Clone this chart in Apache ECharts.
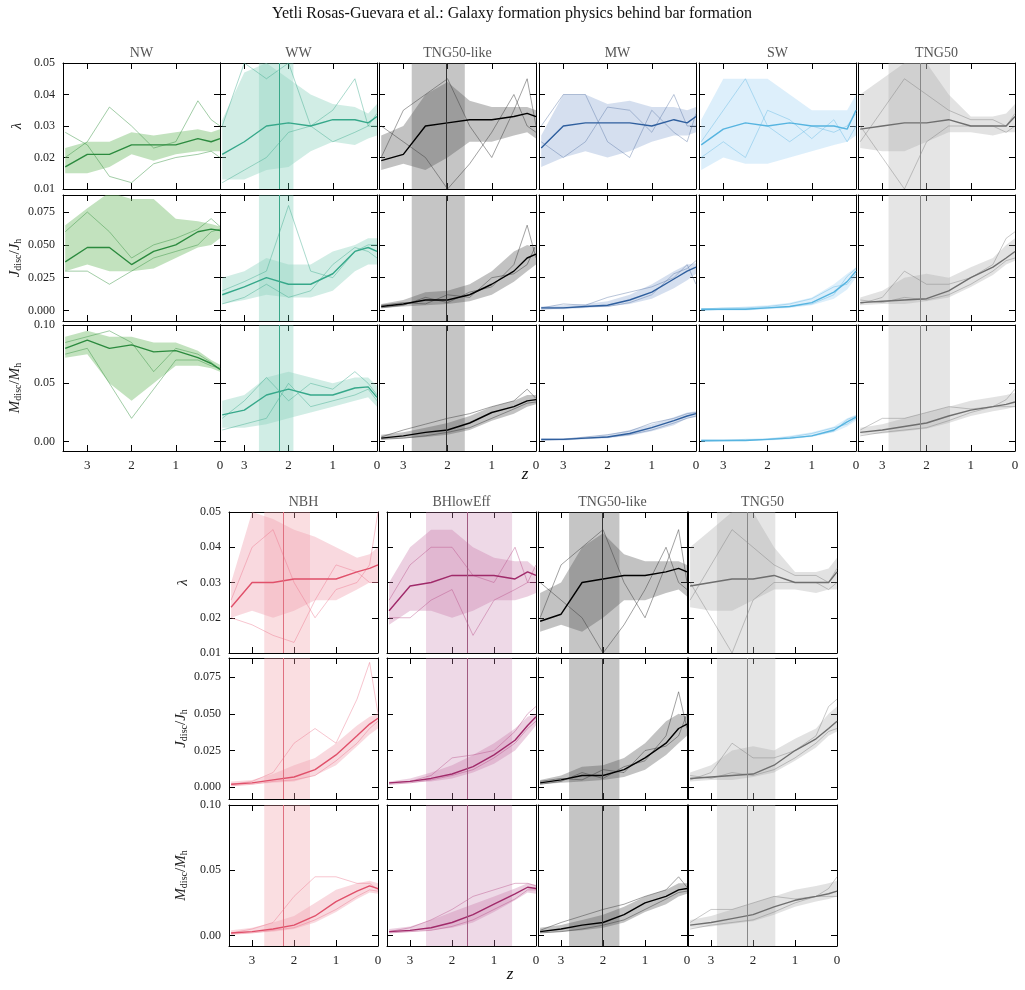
<!DOCTYPE html>
<html><head><meta charset="utf-8">
<script src="https://cdn.jsdelivr.net/npm/echarts@6/dist/echarts.min.js"></script>
<style>html,body{margin:0;padding:0;background:#fff}#c{width:1025px;height:990px}</style>
</head><body><div id="c"></div>
<script>
const Z = [3.5,3,2.5,2,1.5,1,0.5,0.2,0];
const xTicks = [0,1,2,3];
const lamTicks = [0.01,0.02,0.03,0.04,0.05];
const jTicks = [0,0.025,0.05,0.075];
const mTicks = [0,0.05,0.10];

const NW_lam_med=[0.017,0.021,0.021,0.024,0.024,0.024,0.026,0.025,0.026];
const NW_lam_lo=[0.015,0.015,0.017,0.021,0.019,0.021,0.022,0.022,0.022];
const NW_lam_hi=[0.023,0.025,0.025,0.028,0.027,0.028,0.029,0.028,0.029];
const NW_lam_t1=[0.028,0.024,0.014,0.012,0.018,0.02,0.021,0.022,0.02];
const NW_lam_t2=[0.02,0.025,0.036,0.03,0.023,0.025,0.038,0.032,0.03];
const NW_j_med=[0.037,0.048,0.048,0.035,0.045,0.05,0.06,0.062,0.061];
const NW_j_lo=[0.03,0.035,0.03,0.03,0.032,0.04,0.048,0.05,0.055];
const NW_j_hi=[0.065,0.078,0.09,0.085,0.085,0.07,0.068,0.066,0.064];
const NW_j_t1=[0.03,0.03,0.02,0.03,0.04,0.045,0.05,0.06,0.062];
const NW_j_t2=[0.06,0.075,0.06,0.04,0.05,0.055,0.062,0.07,0.064];
const NW_m_med=[0.08,0.087,0.08,0.083,0.077,0.078,0.072,0.067,0.062];
const NW_m_lo=[0.072,0.075,0.05,0.035,0.05,0.065,0.065,0.063,0.06];
const NW_m_hi=[0.09,0.095,0.09,0.09,0.085,0.085,0.078,0.07,0.066];
const NW_m_t1=[0.075,0.08,0.05,0.02,0.045,0.07,0.07,0.065,0.063];
const NW_m_t2=[0.085,0.09,0.095,0.085,0.06,0.08,0.075,0.068,0.062];

const WW_lam_med=[0.021,0.025,0.03,0.031,0.03,0.032,0.032,0.031,0.033];
const WW_lam_lo=[0.013,0.013,0.016,0.017,0.022,0.025,0.024,0.026,0.027];
const WW_lam_hi=[0.032,0.047,0.05,0.045,0.04,0.037,0.036,0.034,0.037];
const WW_lam_t1=[0.03,0.05,0.045,0.05,0.03,0.035,0.045,0.03,0.03];
const WW_lam_t2=[0.012,0.016,0.02,0.028,0.03,0.025,0.028,0.03,0.034];
const WW_j_med=[0.012,0.018,0.025,0.02,0.02,0.028,0.045,0.048,0.045];
const WW_j_lo=[0.005,0.008,0.012,0.01,0.01,0.015,0.03,0.035,0.035];
const WW_j_hi=[0.025,0.03,0.04,0.035,0.035,0.045,0.05,0.055,0.055];
const WW_j_t1=[0.015,0.022,0.03,0.08,0.03,0.025,0.045,0.05,0.05];
const WW_j_t2=[0.005,0.01,0.02,0.01,0.015,0.035,0.048,0.045,0.04];
const WW_m_med=[0.023,0.027,0.04,0.045,0.04,0.04,0.046,0.047,0.038];
const WW_m_lo=[0.012,0.012,0.015,0.02,0.025,0.03,0.035,0.038,0.03];
const WW_m_hi=[0.035,0.04,0.055,0.06,0.055,0.05,0.055,0.055,0.048];
const WW_m_t1=[0.02,0.035,0.055,0.035,0.05,0.045,0.06,0.05,0.04];
const WW_m_t2=[0.01,0.015,0.02,0.05,0.03,0.035,0.04,0.045,0.035];

const TL_lam_med=[0.019,0.021,0.03,0.031,0.032,0.032,0.033,0.034,0.033];
const TL_lam_lo=[0.016,0.018,0.016,0.02,0.025,0.025,0.027,0.028,0.026];
const TL_lam_hi=[0.027,0.03,0.04,0.044,0.038,0.036,0.036,0.036,0.035];
const TL_lam_t1=[0.03,0.025,0.02,0.01,0.018,0.028,0.04,0.03,0.028];
const TL_lam_t2=[0.02,0.035,0.04,0.045,0.03,0.02,0.035,0.045,0.03];
const TL_j_med=[0.003,0.005,0.008,0.008,0.012,0.02,0.03,0.04,0.043];
const TL_j_lo=[0.002,0.003,0.004,0.005,0.007,0.012,0.022,0.03,0.035];
const TL_j_hi=[0.005,0.008,0.014,0.015,0.02,0.03,0.045,0.05,0.048];
const TL_j_t1=[0.002,0.004,0.01,0.006,0.014,0.018,0.035,0.065,0.04];
const TL_j_t2=[0.004,0.006,0.005,0.012,0.01,0.025,0.028,0.035,0.05];
const TL_m_med=[0.003,0.005,0.008,0.01,0.016,0.025,0.03,0.035,0.036];
const TL_m_lo=[0.002,0.003,0.004,0.006,0.01,0.018,0.024,0.03,0.032];
const TL_m_hi=[0.006,0.008,0.012,0.016,0.022,0.03,0.035,0.04,0.04];
const TL_m_t1=[0.004,0.01,0.015,0.02,0.024,0.03,0.035,0.045,0.037];
const TL_m_t2=[0.002,0.003,0.005,0.008,0.012,0.02,0.028,0.033,0.034];

const MW_lam_med=[0.023,0.03,0.031,0.031,0.031,0.03,0.032,0.031,0.033];
const MW_lam_lo=[0.017,0.02,0.022,0.02,0.022,0.025,0.027,0.027,0.028];
const MW_lam_hi=[0.027,0.04,0.04,0.037,0.038,0.036,0.036,0.035,0.036];
const MW_lam_t1=[0.03,0.04,0.04,0.025,0.02,0.035,0.028,0.025,0.034];
const MW_lam_t2=[0.025,0.02,0.025,0.036,0.035,0.028,0.04,0.03,0.03];
const MW_j_med=[0.002,0.002,0.003,0.004,0.008,0.014,0.024,0.03,0.033];
const MW_j_lo=[0.001,0.001,0.002,0.003,0.005,0.009,0.017,0.023,0.028];
const MW_j_hi=[0.003,0.004,0.005,0.007,0.012,0.02,0.03,0.035,0.036];
const MW_j_t1=[0.002,0.005,0.004,0.01,0.014,0.018,0.025,0.035,0.02];
const MW_j_t2=[0.001,0.002,0.003,0.003,0.006,0.012,0.028,0.032,0.038];
const MW_m_med=[0.002,0.002,0.003,0.004,0.007,0.012,0.018,0.022,0.024];
const MW_m_lo=[0.001,0.001,0.002,0.003,0.005,0.009,0.014,0.02,0.021];
const MW_m_hi=[0.003,0.003,0.004,0.006,0.01,0.015,0.021,0.025,0.026];
const MW_m_t1=[0.001,0.002,0.004,0.006,0.009,0.016,0.02,0.024,0.025];
const MW_m_t2=[0.002,0.002,0.003,0.004,0.006,0.01,0.016,0.02,0.022];

const SW_lam_med=[0.024,0.029,0.031,0.03,0.031,0.03,0.03,0.029,0.035];
const SW_lam_lo=[0.016,0.02,0.018,0.018,0.02,0.022,0.024,0.025,0.027];
const SW_lam_hi=[0.032,0.045,0.045,0.045,0.04,0.035,0.035,0.035,0.04];
const SW_lam_t1=[0.025,0.035,0.045,0.03,0.025,0.03,0.028,0.03,0.034];
const SW_lam_t2=[0.02,0.025,0.02,0.035,0.032,0.026,0.032,0.025,0.03];
const SW_j_med=[0.001,0.001,0.001,0.002,0.003,0.006,0.014,0.022,0.03];
const SW_j_lo=[0.0,0.0,0.0,0.001,0.002,0.004,0.009,0.016,0.025];
const SW_j_hi=[0.002,0.002,0.003,0.004,0.006,0.01,0.02,0.028,0.033];
const SW_j_t1=[0.001,0.002,0.002,0.003,0.005,0.009,0.018,0.02,0.028];
const SW_j_t2=[0.0,0.001,0.001,0.002,0.003,0.005,0.012,0.026,0.032];
const SW_m_med=[0.001,0.001,0.001,0.002,0.003,0.005,0.01,0.017,0.021];
const SW_m_lo=[0,0,0.001,0.001,0.002,0.004,0.008,0.013,0.018];
const SW_m_hi=[0.002,0.002,0.002,0.003,0.005,0.008,0.013,0.02,0.023];
const SW_m_t1=[0.001,0.001,0.002,0.002,0.004,0.007,0.012,0.015,0.02];
const SW_m_t2=[0,0.001,0.001,0.002,0.003,0.005,0.009,0.019,0.022];

const T50_lam_med=[0.029,0.03,0.031,0.031,0.032,0.03,0.03,0.03,0.033];
const T50_lam_lo=[0.023,0.022,0.022,0.025,0.028,0.028,0.027,0.028,0.028];
const T50_lam_hi=[0.04,0.045,0.05,0.05,0.04,0.033,0.033,0.034,0.037];
const T50_lam_t1=[0.03,0.02,0.01,0.025,0.03,0.03,0.03,0.028,0.03];
const T50_lam_t2=[0.025,0.035,0.045,0.04,0.035,0.032,0.032,0.03,0.034];
const T50_j_med=[0.006,0.007,0.008,0.009,0.015,0.025,0.033,0.04,0.045];
const T50_j_lo=[0.004,0.005,0.005,0.007,0.01,0.018,0.027,0.035,0.038];
const T50_j_hi=[0.01,0.015,0.025,0.028,0.025,0.033,0.04,0.05,0.055];
const T50_j_t1=[0.005,0.01,0.03,0.02,0.02,0.025,0.035,0.055,0.06];
const T50_j_t2=[0.008,0.006,0.01,0.008,0.012,0.02,0.03,0.038,0.04];
const T50_m_med=[0.008,0.01,0.013,0.016,0.022,0.027,0.03,0.032,0.034];
const T50_m_lo=[0.006,0.007,0.009,0.011,0.016,0.022,0.026,0.028,0.03];
const T50_m_hi=[0.012,0.015,0.02,0.025,0.03,0.035,0.038,0.04,0.042];
const T50_m_t1=[0.01,0.02,0.02,0.025,0.03,0.028,0.03,0.036,0.045];
const T50_m_t2=[0.005,0.008,0.01,0.012,0.018,0.025,0.03,0.03,0.03];

const NBH_lam_med=[0.023,0.03,0.03,0.031,0.031,0.031,0.033,0.034,0.035];
const NBH_lam_lo=[0.02,0.022,0.02,0.022,0.025,0.025,0.028,0.03,0.03];
const NBH_lam_hi=[0.03,0.05,0.048,0.045,0.043,0.04,0.037,0.038,0.04];
const NBH_lam_t1=[0.025,0.04,0.045,0.03,0.02,0.028,0.03,0.035,0.05];
const NBH_lam_t2=[0.02,0.018,0.015,0.013,0.025,0.035,0.033,0.03,0.03];
const NBH_j_med=[0.002,0.003,0.005,0.007,0.012,0.022,0.035,0.043,0.047];
const NBH_j_lo=[0.001,0.002,0.003,0.004,0.008,0.015,0.028,0.036,0.04];
const NBH_j_hi=[0.004,0.005,0.009,0.015,0.02,0.03,0.042,0.048,0.05];
const NBH_j_t1=[0.002,0.004,0.01,0.03,0.04,0.03,0.06,0.085,0.05];
const NBH_j_t2=[0.001,0.002,0.004,0.005,0.008,0.018,0.03,0.04,0.045];
const NBH_m_med=[0.002,0.003,0.005,0.008,0.015,0.026,0.034,0.038,0.036];
const NBH_m_lo=[0.001,0.002,0.003,0.005,0.01,0.018,0.028,0.033,0.032];
const NBH_m_hi=[0.004,0.006,0.01,0.015,0.025,0.035,0.04,0.042,0.04];
const NBH_m_t1=[0.002,0.005,0.01,0.03,0.045,0.045,0.04,0.04,0.035];
const NBH_m_t2=[0.001,0.002,0.004,0.006,0.012,0.02,0.03,0.035,0.034];

const BH_lam_med=[0.022,0.029,0.03,0.032,0.032,0.032,0.031,0.033,0.032];
const BH_lam_lo=[0.018,0.022,0.022,0.02,0.022,0.025,0.025,0.026,0.027];
const BH_lam_hi=[0.03,0.04,0.045,0.045,0.04,0.037,0.036,0.036,0.034];
const BH_lam_t1=[0.025,0.035,0.04,0.04,0.032,0.03,0.04,0.03,0.035];
const BH_lam_t2=[0.02,0.02,0.025,0.028,0.015,0.025,0.028,0.03,0.03];
const BH_j_med=[0.003,0.004,0.006,0.009,0.014,0.022,0.032,0.042,0.048];
const BH_j_lo=[0.002,0.003,0.004,0.006,0.01,0.016,0.025,0.035,0.042];
const BH_j_hi=[0.004,0.006,0.01,0.015,0.022,0.03,0.04,0.048,0.05];
const BH_j_t1=[0.003,0.004,0.008,0.02,0.022,0.025,0.038,0.05,0.055];
const BH_j_t2=[0.002,0.003,0.005,0.008,0.012,0.02,0.03,0.04,0.045];
const BH_m_med=[0.003,0.004,0.006,0.01,0.016,0.024,0.032,0.037,0.036];
const BH_m_lo=[0.002,0.003,0.004,0.006,0.01,0.018,0.027,0.033,0.032];
const BH_m_hi=[0.005,0.007,0.012,0.018,0.024,0.03,0.036,0.04,0.039];
const BH_m_t1=[0.003,0.006,0.012,0.02,0.03,0.035,0.04,0.04,0.038];
const BH_m_t2=[0.002,0.003,0.004,0.007,0.012,0.02,0.028,0.035,0.035];

const models = {
 NW:{title:'NW',line:'#2b8a3e',band:'rgba(120,190,110,0.45)',thin:'rgba(60,150,70,0.6)',vb:null,
   lam:[NW_lam_med,NW_lam_lo,NW_lam_hi,NW_lam_t1,NW_lam_t2],j:[NW_j_med,NW_j_lo,NW_j_hi,NW_j_t1,NW_j_t2],m:[NW_m_med,NW_m_lo,NW_m_hi,NW_m_t1,NW_m_t2]},
 WW:{title:'WW',line:'#36a88a',band:'rgba(140,210,190,0.4)',thin:'rgba(60,170,140,0.55)',vb:[2.67,1.89,2.22],vbc:'rgba(100,195,170,0.3)',vlc:'#3aa88a',
   lam:[WW_lam_med,WW_lam_lo,WW_lam_hi,WW_lam_t1,WW_lam_t2],j:[WW_j_med,WW_j_lo,WW_j_hi,WW_j_t1,WW_j_t2],m:[WW_m_med,WW_m_lo,WW_m_hi,WW_m_t1,WW_m_t2]},
 TL:{title:'TNG50-like',line:'#000',band:'rgba(80,80,80,0.35)',thin:'rgba(60,60,60,0.6)',vb:[2.81,1.61,2.03],vbc:'rgba(90,90,90,0.35)',vlc:'#333',
   lam:[TL_lam_med,TL_lam_lo,TL_lam_hi,TL_lam_t1,TL_lam_t2],j:[TL_j_med,TL_j_lo,TL_j_hi,TL_j_t1,TL_j_t2],m:[TL_m_med,TL_m_lo,TL_m_hi,TL_m_t1,TL_m_t2]},
 MW:{title:'MW',line:'#2f5f9e',band:'rgba(150,175,215,0.4)',thin:'rgba(80,110,160,0.5)',vb:null,
   lam:[MW_lam_med,MW_lam_lo,MW_lam_hi,MW_lam_t1,MW_lam_t2],j:[MW_j_med,MW_j_lo,MW_j_hi,MW_j_t1,MW_j_t2],m:[MW_m_med,MW_m_lo,MW_m_hi,MW_m_t1,MW_m_t2]},
 SW:{title:'SW',line:'#56b4e0',band:'rgba(170,215,245,0.4)',thin:'rgba(90,180,225,0.5)',vb:null,
   lam:[SW_lam_med,SW_lam_lo,SW_lam_hi,SW_lam_t1,SW_lam_t2],j:[SW_j_med,SW_j_lo,SW_j_hi,SW_j_t1,SW_j_t2],m:[SW_m_med,SW_m_lo,SW_m_hi,SW_m_t1,SW_m_t2]},
 T50:{title:'TNG50',line:'#6e6e6e',band:'rgba(160,160,160,0.3)',thin:'rgba(120,120,120,0.5)',vb:[2.86,1.47,2.14],vbc:'rgba(180,180,180,0.35)',vlc:'#888',
   lam:[T50_lam_med,T50_lam_lo,T50_lam_hi,T50_lam_t1,T50_lam_t2],j:[T50_j_med,T50_j_lo,T50_j_hi,T50_j_t1,T50_j_t2],m:[T50_m_med,T50_m_lo,T50_m_hi,T50_m_t1,T50_m_t2]},
 NBH:{title:'NBH',line:'#e0506a',band:'rgba(240,160,175,0.4)',thin:'rgba(235,110,135,0.5)',vb:[2.71,1.62,2.26],vbc:'rgba(240,160,170,0.35)',vlc:'#e07080',
   lam:[NBH_lam_med,NBH_lam_lo,NBH_lam_hi,NBH_lam_t1,NBH_lam_t2],j:[NBH_j_med,NBH_j_lo,NBH_j_hi,NBH_j_t1,NBH_j_t2],m:[NBH_m_med,NBH_m_lo,NBH_m_hi,NBH_m_t1,NBH_m_t2]},
 BH:{title:'BHlowEff',line:'#a02a6a',band:'rgba(200,120,170,0.35)',thin:'rgba(180,70,130,0.5)',vb:[2.62,0.57,1.64],vbc:'rgba(200,130,175,0.3)',vlc:'#a05a80',
   lam:[BH_lam_med,BH_lam_lo,BH_lam_hi,BH_lam_t1,BH_lam_t2],j:[BH_j_med,BH_j_lo,BH_j_hi,BH_j_t1,BH_j_t2],m:[BH_m_med,BH_m_lo,BH_m_hi,BH_m_t1,BH_m_t2]}
};

const FONT='Liberation Serif';
const qcfg = {
 lam:{min:0.01,max:0.05,ticks:lamTicks,fmt:v=>v.toFixed(2),name:'{i|λ}'},
 j:{min:-0.008,max:0.088,ticks:jTicks,fmt:v=>v.toFixed(3),name:'{i|J}{s|disc}{n|/}{i|J}{s|h}'},
 m:{min:-0.008,max:0.10,ticks:mTicks,fmt:v=>v.toFixed(2),name:'{i|M}{s|disc}{n|/}{i|M}{s|h}'}
};
const rich={i:{fontFamily:FONT,fontStyle:'italic',fontSize:15,color:'#222'},s:{fontFamily:FONT,fontSize:10,color:'#222',verticalAlign:'bottom',padding:[6,0,0,0]},n:{fontFamily:FONT,fontSize:15,color:'#222'}};

const grids=[],xAxes=[],yAxes=[],series=[],graphics=[];
function pts(arr){return Z.map((z,i)=>[z,arr[i]]);}
function panel(model,q,left,top,w,h,showY,showX,showTitle){
  const M=models[model], C=qcfg[q], d=M[q], gi=grids.length;
  grids.push({left:left,top:top,width:w,height:h});
  const axLine={show:true,onZero:false,lineStyle:{color:'#000',width:1}};
  const xa={gridIndex:gi,type:'value',min:0,max:3.55,inverse:true,axisLine:axLine,splitLine:{show:false},
    axisTick:{show:true,inside:true,length:6,customValues:xTicks,lineStyle:{color:'#000'}},
    axisLabel:{show:showX,customValues:xTicks,fontFamily:FONT,fontSize:13,color:'#222',margin:8}};
  xAxes.push(xa);
  xAxes.push(Object.assign({},xa,{position:'top',axisLabel:{show:false}}));
  const ya={gridIndex:gi,type:'value',min:C.min,max:C.max,axisLine:axLine,splitLine:{show:false},
    axisTick:{show:true,inside:true,length:6,customValues:C.ticks,lineStyle:{color:'#000'}},
    axisLabel:{show:showY,customValues:C.ticks,formatter:C.fmt,fontFamily:FONT,fontSize:12,color:'#222'},
    name:showY?C.name:'',nameLocation:'middle',nameGap:q==='lam'?38:40,nameRotate:90,nameTextStyle:{rich:rich}};
  yAxes.push(ya);
  yAxes.push(Object.assign({},ya,{position:'right',axisLabel:{show:false},name:''}));
  const xi=gi*2, yi=gi*2;
  const lo=d[1],hi=d[2];
  series.push({type:'custom',xAxisIndex:xi,yAxisIndex:yi,clip:true,silent:true,data:[0],z:1,
    renderItem:function(p,api){
      const P=[];for(let i=0;i<Z.length;i++)P.push(api.coord([Z[i],hi[i]]));
      for(let i=Z.length-1;i>=0;i--)P.push(api.coord([Z[i],lo[i]]));
      return {type:'polygon',shape:{points:P},style:{fill:M.band}};
    }});
  [d[3],d[4]].forEach(t=>series.push({type:'line',xAxisIndex:xi,yAxisIndex:yi,data:pts(t),symbol:'none',silent:true,z:2,lineStyle:{color:M.thin,width:0.8}}));
  const med={type:'line',xAxisIndex:xi,yAxisIndex:yi,data:pts(d[0]),symbol:'none',z:3,lineStyle:{color:M.line,width:1.4}};
  if(M.vb){
    med.markArea={silent:true,itemStyle:{color:M.vbc},data:[[{xAxis:M.vb[0]},{xAxis:M.vb[1]}]]};
    med.markLine={silent:true,symbol:'none',label:{show:false},lineStyle:{color:M.vlc,width:1,type:'solid'},data:[{xAxis:M.vb[2]}]};
  }
  series.push(med);
  if(showTitle) graphics.push({type:'text',x:left+w/2,y:top-17,style:{text:M.title,align:'center',font:'14px '+FONT,fill:'#555'}});
}
const topCols=['NW','WW','TL','MW','SW','T50'], topLefts=[63,220,379,539,699,858];
const topRows=['lam','j','m'], topTops=[63,195,325];
topCols.forEach((m,c)=>topRows.forEach((q,r)=>panel(m,q,topLefts[c],topTops[r],157,126,c===0,r===2,r===0)));
const botCols=['NBH','BH','TL','T50'], botLefts=[229,387,538,688];
const botTops=[512,658,805];
botCols.forEach((m,c)=>topRows.forEach((q,r)=>panel(m,q,botLefts[c],botTops[r],149,141,c===0,r===2,r===0)));

graphics.push({type:'text',x:512,y:6,style:{text:'Yetli Rosas-Guevara et al.: Galaxy formation physics behind bar formation',align:'center',font:'16px '+FONT,fill:'#111'}});
graphics.push({type:'text',x:525,y:466,style:{text:'z',align:'center',font:'italic 17px '+FONT,fill:'#111'}});
graphics.push({type:'text',x:510,y:966,style:{text:'z',align:'center',font:'italic 17px '+FONT,fill:'#111'}});

const chart=echarts.init(document.getElementById('c'));
chart.setOption({animation:false,backgroundColor:'#fff',grid:grids,xAxis:xAxes,yAxis:yAxes,series:series,graphic:graphics});
</script></body></html>
